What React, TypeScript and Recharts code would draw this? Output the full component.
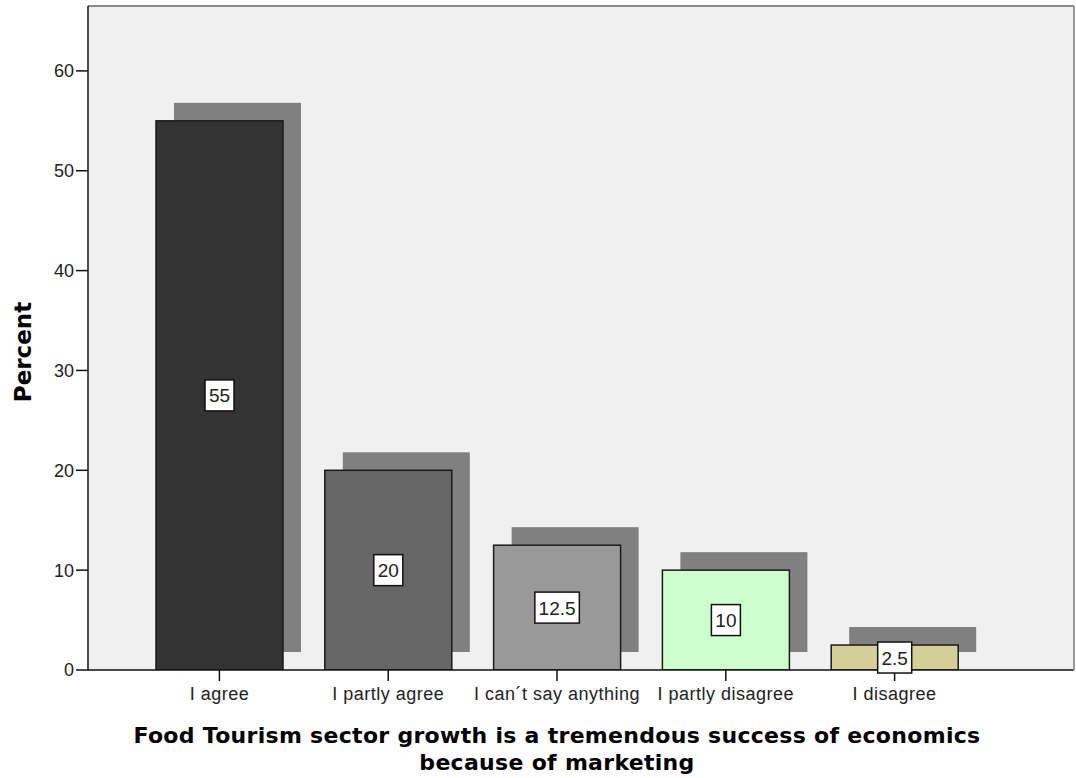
import { BarChart, Bar, XAxis, YAxis, CartesianGrid, LabelList, ReferenceLine } from 'recharts';

const categories = ['I agree', 'I partly agree', 'I can´t say anything', 'I partly disagree', 'I disagree'];
const percents = [55, 20, 12.5, 10, 2.5];
const barColors = ['#333333', '#666666', '#999999', '#ccffcc', '#d4cf96'];
const yTicks = [0, 10, 20, 30, 40, 50, 60];

const data = categories.map((name, i) => ({ name, percent: percents[i], color: barColors[i] }));

const SHADOW = 18;
const tickFont = 'Liberation Sans, Arial, sans-serif';

// bar with its grey drop shadow behind it
const ShadowBar = (props: any) => {
  const { x, y, width, height, payload } = props;
  return (
    <g>
      <rect x={x + SHADOW} y={y - SHADOW} width={width} height={height} fill="#808080" />
      <rect x={x} y={y} width={width} height={height} fill={payload.color} stroke="#1a1a1a" strokeWidth={1.5} />
    </g>
  );
};

const BoxLabel = (props: any) => {
  const { x, y, width, height, value } = props;
  const cx = x + width / 2;
  const cy = y + height / 2;
  const txt = String(value);
  const w = txt.split('').reduce((s, c) => s + (c === '.' ? 5 : 10.5), 0) + 8;
  return (
    <g>
      <rect x={cx - w / 2} y={cy - 15.5} width={w} height={31} fill="#ffffff" stroke="#111" strokeWidth={1.5} />
      <text x={cx} y={cy + 7} textAnchor="middle" fontFamily={tickFont} fontSize={19} fill="#222">
        {txt}
      </text>
    </g>
  );
};

const XTitle = () => (
  <text textAnchor="middle" fontFamily="DejaVu Sans, Verdana, sans-serif" fontWeight="bold" fontSize={22} letterSpacing={0.3} fill="#000">
    <tspan x={557} y={743}>Food Tourism sector growth is a tremendous success of economics</tspan>
    <tspan x={557} y={770}>because of marketing</tspan>
  </text>
);

const YTitle = () => (
  <text
    x={23}
    y={352}
    transform="rotate(-90 23 352)"
    textAnchor="middle"
    dominantBaseline="central"
    fontFamily="DejaVu Sans, Verdana, sans-serif"
    fontWeight="bold"
    fontSize={23}
    fill="#000"
  >
    Percent
  </text>
);

export default function App() {
  return (
    <div style={{ position: 'absolute', left: 0, top: 0, background: '#fff' }}>
      <BarChart width={1076} height={778} data={data} margin={{ top: 6, right: 1, bottom: 0, left: 0 }}>
        <CartesianGrid fill="#f0f0f0" horizontal={false} vertical={false} />
        <XAxis
          dataKey="name"
          padding={{ left: 47, right: 95 }}
          height={108}
          tickSize={11}
          tickMargin={6}
          tickLine={{ stroke: '#111', strokeWidth: 1.5 }}
          axisLine={{ stroke: '#111', strokeWidth: 1.5 }}
          tick={{ fontFamily: tickFont, fontSize: 18, letterSpacing: 0.5, fill: '#222' }}
          interval={0}
          label={{ content: () => <XTitle /> }}
        />
        <YAxis
          domain={[0, 66.5]}
          ticks={yTicks}
          width={88}
          tickSize={12}
          tickLine={{ stroke: '#111', strokeWidth: 1.5 }}
          axisLine={{ stroke: '#111', strokeWidth: 1.5 }}
          tick={{ fontFamily: tickFont, fontSize: 18, fill: '#222' }}
          allowDataOverflow
          label={{ content: () => <YTitle /> }}
        />
        <YAxis
          yAxisId="frame"
          orientation="right"
          domain={[0, 66.5]}
          width={1}
          tick={false}
          tickLine={false}
          axisLine={{ stroke: '#999', strokeWidth: 2 }}
        />
        <ReferenceLine y={66.5} stroke="#888" strokeWidth={2} />
        <Bar dataKey="percent" barSize={127} shape={ShadowBar} isAnimationActive={false}>
          <LabelList dataKey="percent" content={BoxLabel} />
        </Bar>
      </BarChart>
    </div>
  );
}
